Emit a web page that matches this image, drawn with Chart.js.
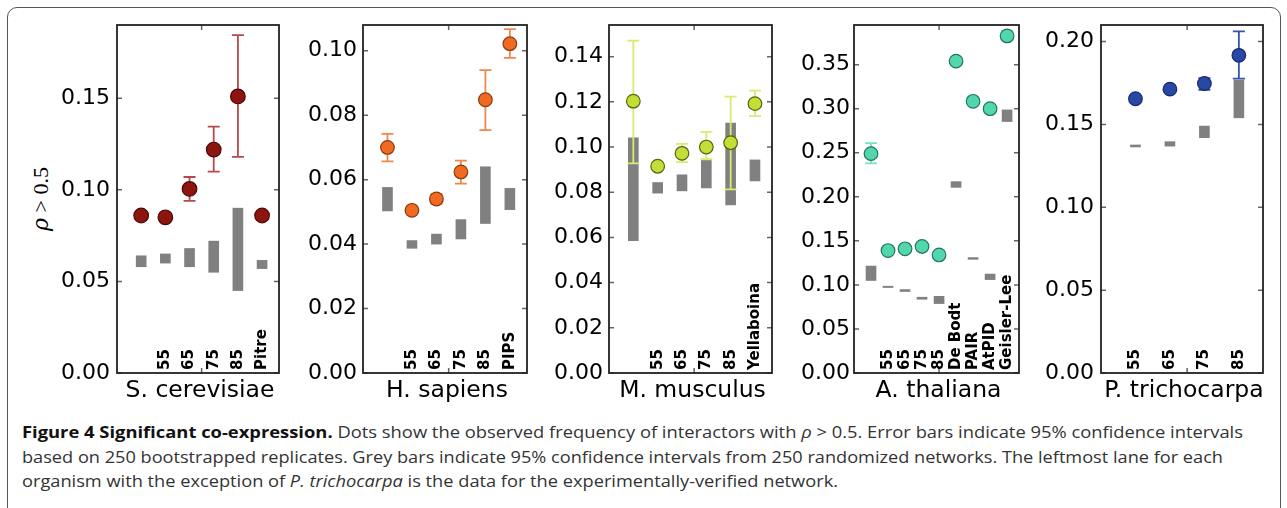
<!DOCTYPE html>
<html>
<head>
<meta charset="utf-8">
<script src="https://cdn.jsdelivr.net/npm/chart.js@4/dist/chart.umd.min.js"></script>
<style>
  body { margin: 0; background: #fff; width: 1287px; height: 508px; overflow: hidden; position: relative; }
  #frame { position: absolute; left: 7px; top: 7px; width: 1274px; height: 520px; border: 1px solid #555; border-radius: 10px; box-sizing: border-box; }
  .panel { position: absolute; top: 0; }
  #ylab { position: absolute; left: 41px; top: 199px; transform: translate(-50%, -50%) rotate(-90deg); font-family: 'Liberation Serif', serif; font-size: 22px; white-space: nowrap; color: #000; }
  #ylab i { font-family: 'DejaVu Serif', serif; }
  #caption { position: absolute; left: 22px; top: 420px; font-family: 'Open Sans', sans-serif; font-size: 16.5px; line-height: 24.5px; color: #333; }
  #caption .line { white-space: nowrap; transform-origin: 0 50%; width: max-content; }
  #caption b { color: #111; }
</style>
</head>
<body>
<div id="frame"></div>
<div id="ylab"><i>ρ</i> &gt; 0.5</div>
<div id="charts"></div>
<div id="caption">
  <div class="line"><b>Figure 4 Significant co-expression.</b> Dots show the observed frequency of interactors with <i>ρ</i> &gt; 0.5. Error bars indicate 95% confidence intervals</div>
  <div class="line">based on 250 bootstrapped replicates. Grey bars indicate 95% confidence intervals from 250 randomized networks. The leftmost lane for each</div>
  <div class="line">organism with the exception of <i>P. trichocarpa</i> is the data for the experimentally-verified network.</div>
</div>
<script>
// observed frequency (dots), bootstrap 95% CI (error bars), randomized 95% CI (grey bars)
const scerLanes = ['', '55', '65', '75', '85', 'Pitre'];
const scerObs = [0.086, 0.085, 0.1005, 0.122, 0.151, 0.086];
const scerObsLo = [0.084, 0.083, 0.094, 0.110, 0.118, 0.084];
const scerObsHi = [0.088, 0.087, 0.107, 0.1345, 0.1845, 0.088];
const scerRandLo = [0.058, 0.060, 0.058, 0.055, 0.045, 0.057];
const scerRandHi = [0.064, 0.065, 0.068, 0.072, 0.090, 0.0615];
const scerTicks = [0, 0.05, 0.10, 0.15];

const hsapLanes = ['', '55', '65', '75', '85', 'PIPS'];
const hsapObs = [0.070, 0.0505, 0.054, 0.0624, 0.0848, 0.1022];
const hsapObsLo = [0.0657, 0.0495, 0.0525, 0.0588, 0.0754, 0.0978];
const hsapObsHi = [0.0742, 0.0515, 0.0555, 0.0659, 0.094, 0.1067];
const hsapRandLo = [0.0503, 0.0387, 0.040, 0.0416, 0.0464, 0.0507];
const hsapRandHi = [0.0576, 0.0411, 0.0431, 0.0476, 0.064, 0.0573];
const hsapTicks = [0, 0.02, 0.04, 0.06, 0.08, 0.10];

const mmusLanes = ['', '55', '65', '75', '85', 'Yellaboina'];
const mmusObs = [0.1203, 0.0915, 0.0972, 0.100, 0.1019, 0.1192];
const mmusObsLo = [0.0928, 0.0905, 0.0933, 0.0946, 0.0813, 0.1137];
const mmusObsHi = [0.1471, 0.0925, 0.1014, 0.1067, 0.1223, 0.125];
const mmusRandLo = [0.0586, 0.0796, 0.0806, 0.0819, 0.0744, 0.085];
const mmusRandHi = [0.1041, 0.0843, 0.0877, 0.0944, 0.1106, 0.0943];
const mmusTicks = [0, 0.02, 0.04, 0.06, 0.08, 0.10, 0.12, 0.14];

const athaLanes = ['', '55', '65', '75', '85', 'De Bodt', 'PAIR', 'AtPID', 'Geisler-Lee'];
const athaObs = [0.249, 0.139, 0.141, 0.1436, 0.134, 0.354, 0.3084, 0.300, 0.3826];
const athaObsLo = [0.238, 0.138, 0.140, 0.1426, 0.133, 0.353, 0.3074, 0.299, 0.378];
const athaObsHi = [0.261, 0.140, 0.142, 0.1446, 0.135, 0.355, 0.3094, 0.301, 0.388];
const athaRandLo = [0.105, 0.097, 0.0925, 0.0837, 0.0788, 0.2107, 0.129, 0.106, 0.2854];
const athaRandHi = [0.1214, 0.0985, 0.0947, 0.086, 0.087, 0.2172, 0.131, 0.1123, 0.2986];
const athaTicks = [0, 0.05, 0.10, 0.15, 0.20, 0.25, 0.30, 0.35];

const ptriLanes = ['55', '65', '75', '85'];
const ptriObs = [0.1655, 0.1713, 0.1747, 0.1917];
const ptriObsLo = [0.1645, 0.1703, 0.1709, 0.1777];
const ptriObsHi = [0.1665, 0.1723, 0.178, 0.2061];
const ptriRandLo = [0.1364, 0.1369, 0.142, 0.154];
const ptriRandHi = [0.1376, 0.1396, 0.149, 0.1767];
const ptriTicks = [0, 0.05, 0.10, 0.15, 0.20];

const panels = [
  { name: 'S. cerevisiae', lanes: scerLanes, obs: scerObs, lo: scerObsLo, hi: scerObsHi, rlo: scerRandLo, rhi: scerRandHi, ticks: scerTicks,
    yMax: 0.19, xTick: 2.5, box: [117, 279], pad: 7, fill: '#8c1510', edge: '#4a0805', err: '#b8484a', r: 7.3 },
  { name: 'H. sapiens', lanes: hsapLanes, obs: hsapObs, lo: hsapObsLo, hi: hsapObsHi, rlo: hsapRandLo, rhi: hsapRandHi, ticks: hsapTicks,
    yMax: 0.108, xTick: 2.5, box: [363, 527], pad: 6, fill: '#f06a22', edge: '#8a3a10', err: '#f0884c', r: 6.8 },
  { name: 'M. musculus', lanes: mmusLanes, obs: mmusObs, lo: mmusObsLo, hi: mmusObsHi, rlo: mmusRandLo, rhi: mmusRandHi, ticks: mmusTicks,
    yMax: 0.154, xTick: 2.5, box: [609, 772], pad: 6, fill: '#c4de38', edge: '#55650e', err: '#d6ec70', r: 6.8 },
  { name: 'A. thaliana', lanes: athaLanes, obs: athaObs, lo: athaObsLo, hi: athaObsHi, rlo: athaRandLo, rhi: athaRandHi, ticks: athaTicks,
    yMax: 0.395, xTick: 4, box: [854, 1019], pad: 4, fill: '#52d6ae', edge: '#257560', err: '#78e2c4', r: 6.8 },
  { name: 'P. trichocarpa', lanes: ptriLanes, obs: ptriObs, lo: ptriObsLo, hi: ptriObsHi, rlo: ptriRandLo, rhi: ptriRandHi, ticks: ptriTicks,
    yMax: 0.21, xTick: 1.5, box: [1101, 1263], pad: 7, fill: '#2848a6', edge: '#18296e', err: '#3552b2', r: 6.8 }
];

const PLOT_TOP = 25, PLOT_BOTTOM = 373, CANVAS_H = 410, AXIS_W = 80;

// frame, inward ticks, error bars, lane labels and organism name
function decor(p) {
  return {
    id: 'decor',
    afterDatasetDraw(chart, args) {
      if (args.index !== 1) return;
      const ctx = chart.ctx, x = chart.scales.x, y = chart.scales.y;
      ctx.save();
      ctx.strokeStyle = p.err;
      ctx.lineWidth = 1.8;
      p.obs.forEach((v, i) => {
        const px = x.getPixelForValue(i);
        const top = y.getPixelForValue(p.hi[i]), bot = y.getPixelForValue(p.lo[i]);
        ctx.beginPath();
        ctx.moveTo(px, top); ctx.lineTo(px, bot);
        ctx.moveTo(px - 6, top); ctx.lineTo(px + 6, top);
        ctx.moveTo(px - 6, bot); ctx.lineTo(px + 6, bot);
        ctx.stroke();
      });
      ctx.restore();
    },
    afterDraw(chart) {
      const ctx = chart.ctx, a = chart.chartArea, x = chart.scales.x, y = chart.scales.y;
      ctx.save();
      ctx.strokeStyle = '#666';
      ctx.lineWidth = 1.5;
      ctx.beginPath();
      p.ticks.forEach(v => {
        const py = y.getPixelForValue(v);
        ctx.moveTo(a.left, py); ctx.lineTo(a.left + 5, py);
        ctx.moveTo(a.right, py); ctx.lineTo(a.right - 5, py);
      });
      const tx = x.getPixelForValue(p.xTick);
      ctx.moveTo(tx, a.top); ctx.lineTo(tx, a.top + 5);
      ctx.moveTo(tx, a.bottom); ctx.lineTo(tx, a.bottom - 5);
      ctx.stroke();

      ctx.strokeStyle = '#222';
      ctx.lineWidth = 1.8;
      ctx.strokeRect(a.left, a.top, a.right - a.left, a.bottom - a.top);

      ctx.fillStyle = '#000';
      ctx.font = 'bold 15px "DejaVu Sans"';
      ctx.textAlign = 'left';
      ctx.textBaseline = 'middle';
      p.lanes.forEach((lab, i) => {
        if (!lab) return;
        ctx.save();
        ctx.translate(x.getPixelForValue(i), a.bottom - 3);
        ctx.rotate(-Math.PI / 2);
        ctx.fillText(lab, 0, 0);
        ctx.restore();
      });

      ctx.font = '23.5px "DejaVu Sans"';
      ctx.textAlign = 'center';
      ctx.textBaseline = 'alphabetic';
      ctx.fillText(p.name, (a.left + a.right) / 2 + 2, 397);
      ctx.restore();
    }
  };
}

const holder = document.getElementById('charts');
panels.forEach(p => {
  const left = p.box[0] - AXIS_W;
  const width = AXIS_W + (p.box[1] - p.box[0]) + 10;
  const div = document.createElement('div');
  div.className = 'panel';
  div.style.left = left + 'px';
  const canvas = document.createElement('canvas');
  canvas.width = width;
  canvas.height = CANVAS_H;
  div.appendChild(canvas);
  holder.appendChild(div);

  new Chart(canvas, {
    type: 'scatter',
    data: {
      datasets: [
        {
          data: p.obs.map((v, i) => ({ x: i, y: v })),
          backgroundColor: p.fill,
          borderColor: p.edge,
          borderWidth: 1.2,
          pointRadius: p.r
        },
        {
          type: 'bar',
          data: p.rlo.map((lo, i) => ({ x: i, y: [lo, p.rhi[i]] })),
          backgroundColor: '#808080',
          borderWidth: 0,
          barThickness: 10
        }
      ]
    },
    options: {
      responsive: false,
      animation: false,
      events: [],
      layout: { padding: { left: 0, top: PLOT_TOP, right: width - AXIS_W - (p.box[1] - p.box[0]), bottom: CANVAS_H - PLOT_BOTTOM } },
      plugins: { legend: { display: false }, tooltip: { enabled: false } },
      scales: {
        x: { type: 'linear', display: false, offset: false, min: -1, max: p.lanes.length - 0.3 },
        y: {
          min: 0, max: p.yMax,
          grid: { display: false, drawTicks: false },
          border: { display: false },
          afterBuildTicks: s => { s.ticks = p.ticks.map(v => ({ value: v })); },
          afterFit: s => { s.width = AXIS_W; },
          ticks: { padding: p.pad, color: '#000', font: { family: 'DejaVu Sans', size: 22 }, callback: v => v.toFixed(2) }
        }
      }
    },
    plugins: [decor(p)]
  });
});

// caption lines are squeezed to the column width
const targets = [1221, 1201, 816];
document.querySelectorAll('#caption .line').forEach((el, i) => {
  const w = el.getBoundingClientRect().width;
  el.style.transform = 'scaleX(' + (targets[i] / w) + ')';
});
</script>
</body>
</html>
